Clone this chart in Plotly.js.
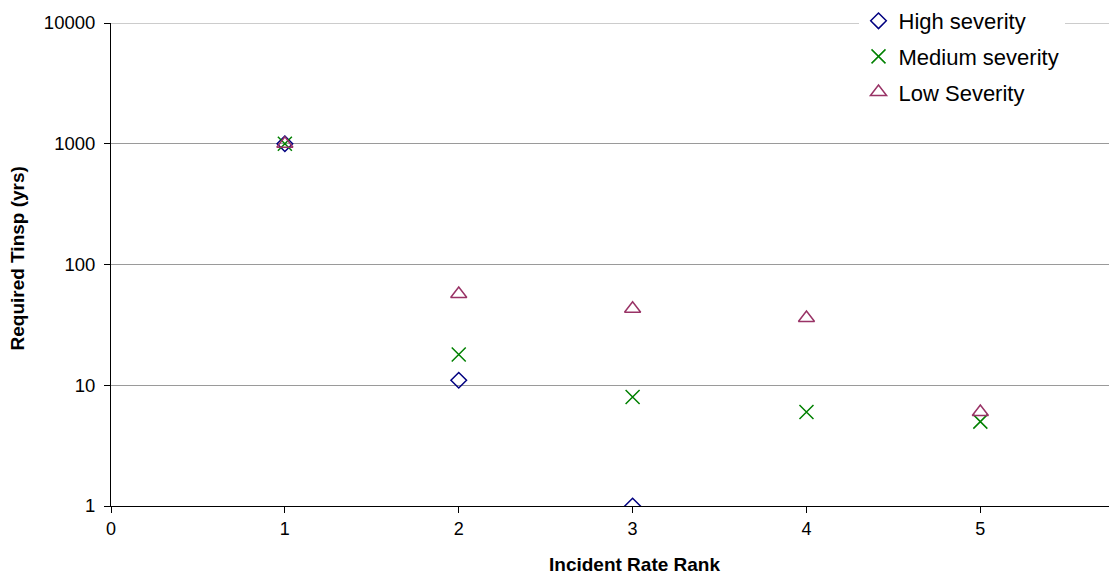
<!DOCTYPE html>
<html>
<head>
<meta charset="utf-8">
<script src="https://cdn.plot.ly/plotly-3.0.1.min.js"></script>
<style>html,body{margin:0;padding:0;background:#fff;}#chart{width:1109px;height:584px;}</style>
</head>
<body>
<div id="chart"></div>
<script>
const seriesNames = ["High severity", "Medium severity", "Low Severity"];
const highX = [1, 2, 3];
const highY = [1000, 11, 1];
const mediumX = [1, 2, 3, 4, 5];
const mediumY = [1000, 18, 8, 6, 5];
const lowX = [1, 2, 3, 4, 5];
const lowY = [1000, 57, 43, 36, 6];
const xTicks = [0, 1, 2, 3, 4, 5];
const yTicks = [1, 10, 100, 1000, 10000];

const font = "Arial, 'Liberation Sans', sans-serif";

const traces = [
  {x: highX, y: highY, name: seriesNames[0], mode: "markers", type: "scatter", legendgroup: "a",
   marker: {symbol: "diamond-open", size: 12, color: "#000080", line: {color: "#000080", width: 1.5}}},
  {x: mediumX, y: mediumY, name: seriesNames[1], mode: "markers", type: "scatter", legendgroup: "b",
   marker: {symbol: "x-thin-open", size: 14, color: "#008000", line: {color: "#008000", width: 1.5}}},
  {x: lowX, y: lowY, name: seriesNames[2], mode: "markers", type: "scatter", legendgroup: "c",
   marker: {symbol: "triangle-up-open", size: 14, color: "#993366", line: {color: "#993366", width: 1.5}}}
];

const layout = {
  width: 1109, height: 584,
  margin: {l: 111, r: 0, t: 22, b: 78},
  paper_bgcolor: "#fff", plot_bgcolor: "#fff",
  font: {family: font, size: 18, color: "#000"},
  showlegend: true,
  legend: {x: 0.749, y: 1.048, xanchor: "left", yanchor: "top", bgcolor: "#fff",
           font: {family: font, size: 22, color: "#000"}, traceorder: "grouped", tracegroupgap: 4},
  xaxis: {range: [0, 5.74], tickvals: xTicks, ticktext: xTicks.map(String), ticks: "outside", ticklen: 6,
          tickcolor: "#000", showline: true, linecolor: "#000", linewidth: 1, showgrid: false, zeroline: false,
          tickfont: {family: font, size: 18, color: "#000"}},
  yaxis: {type: "log", range: [0, 4], tickvals: yTicks, ticktext: yTicks.map(String), ticks: "outside", ticklen: 6,
          tickcolor: "#000", showline: true, linecolor: "#000", linewidth: 1, showgrid: true, gridcolor: "#9a9a9a",
          gridwidth: 1, zeroline: false, ticklabelstandoff: 5, tickfont: {family: font, size: 18.5, color: "#000"}},
  shapes: [
    {type: "line", xref: "paper", yref: "y", x0: 0, x1: 1, y0: 10000, y1: 10000, layer: "below",
     line: {color: "#9a9a9a", width: 1}}
  ],
  annotations: [
    {text: "<b>Incident Rate Rank</b>", xref: "paper", yref: "paper", x: (634 - 111) / 998, y: -(570 - 506) / 528,
     xanchor: "center", yanchor: "middle", showarrow: false, font: {family: font, size: 19, color: "#000"}},
    {text: "<b>Required Tinsp (yrs)</b>", xref: "paper", yref: "paper", x: -(111 - 18) / 998, y: (506 - 258) / 484,
     xanchor: "center", yanchor: "middle", textangle: -90, showarrow: false, font: {family: font, size: 19, color: "#000"}}
  ]
};

Plotly.newPlot("chart", traces, layout, {displayModeBar: false, staticPlot: true});
</script>
</body>
</html>
